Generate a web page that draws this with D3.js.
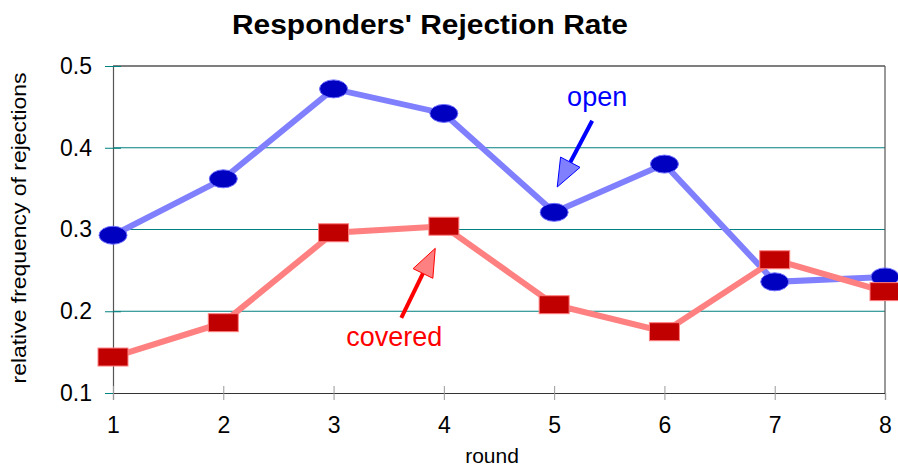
<!DOCTYPE html>
<html lang="en">
<head>
<meta charset="utf-8">
<title>Responders' Rejection Rate</title>
<script src="https://cdn.jsdelivr.net/npm/d3@7"></script>
<style>
  body { margin: 0; background: #fff; }
  text { font-family: "Liberation Sans", Arial, sans-serif; }
</style>
</head>
<body>
<svg width="898" height="468"></svg>
<script>
// data
var rounds = [1, 2, 3, 4, 5, 6, 7, 8];
var openRate = [0.293, 0.362, 0.472, 0.442, 0.321, 0.380, 0.236, 0.242];
var coveredRate = [0.144, 0.186, 0.296, 0.304, 0.208, 0.175, 0.263, 0.224];
var yTicks = [0.1, 0.2, 0.3, 0.4, 0.5];

var svg = d3.select('svg');
var mLeft = 113, mRight = 885, mTop = 66, mBottom = 393;

var x = d3.scaleLinear().domain([1, 8]).range([mLeft, mRight]);
var y = d3.scaleLinear().domain([0.1, 0.5]).range([mBottom, mTop]);

// title
svg.append('text')
    .attr('x', 430).attr('y', 34)
    .attr('text-anchor', 'middle')
    .attr('textLength', 396).attr('lengthAdjust', 'spacingAndGlyphs')
    .style('font-size', '27px').style('font-weight', 'bold')
    .text("Responders' Rejection Rate");

// gridlines
svg.selectAll('line.grid')
    .data(yTicks.slice(1, 4))
    .enter().append('line')
    .attr('class', 'grid')
    .attr('x1', mLeft).attr('x2', mRight)
    .attr('y1', d => y(d)).attr('y2', d => y(d))
    .style('stroke', '#008080').style('stroke-width', 1);

// frame
svg.append('line').attr('x1', mLeft).attr('x2', mRight).attr('y1', mTop).attr('y2', mTop)
    .style('stroke', '#000').style('stroke-width', 1.2);
svg.append('line').attr('x1', mRight).attr('x2', mRight).attr('y1', mTop).attr('y2', mBottom)
    .style('stroke', '#555').style('stroke-width', 1.2);

// y axis
var yAxis = svg.append('g')
    .attr('transform', 'translate(' + mLeft + ',0)')
    .call(d3.axisLeft(y).tickValues(yTicks).tickFormat(d3.format('.1f')).tickSize(8).tickPadding(13));
yAxis.select('.domain').style('stroke', '#555').style('stroke-width', 1.2);
yAxis.selectAll('.tick line').style('stroke', '#008080').attr('x1', -8).attr('x2', 8);
yAxis.selectAll('text').style('font-size', '23px').style('fill', '#000')
    .style('font-family', '"Liberation Sans", Arial, sans-serif');

// x axis
var xAxis = svg.append('g')
    .attr('transform', 'translate(0,' + mBottom + ')')
    .call(d3.axisBottom(x).tickValues(rounds).tickFormat(d3.format('d')).tickSize(7).tickPadding(17));
xAxis.select('.domain').style('stroke', '#333').style('stroke-width', 1.2);
xAxis.selectAll('.tick line').style('stroke', '#999').attr('y1', -7);
xAxis.selectAll('text').style('font-size', '23px').style('fill', '#000')
    .style('font-family', '"Liberation Sans", Arial, sans-serif');

// axis titles
svg.append('text')
    .attr('x', 492).attr('y', 463)
    .attr('text-anchor', 'middle')
    .style('font-size', '21px')
    .text('round');
svg.append('text')
    .attr('transform', 'translate(26,228) rotate(-90)')
    .attr('text-anchor', 'middle')
    .attr('textLength', 311).attr('lengthAdjust', 'spacingAndGlyphs')
    .style('font-size', '21px')
    .text('relative frequency of rejections');

var line = d3.line().x((d, i) => x(rounds[i])).y(d => y(d));

// lines
svg.append('path').datum(openRate).attr('d', line)
    .style('fill', 'none').style('stroke', '#8080ff').style('stroke-width', 6);
svg.append('path').datum(coveredRate).attr('d', line)
    .style('fill', 'none').style('stroke', '#ff8080').style('stroke-width', 6);

// markers
svg.selectAll('ellipse.open')
    .data(openRate).enter().append('ellipse')
    .attr('class', 'open')
    .attr('cx', (d, i) => x(rounds[i])).attr('cy', d => y(d))
    .attr('rx', 14).attr('ry', 9)
    .style('fill', '#0000c0').style('stroke', '#6f6fff').style('stroke-width', 1);
svg.selectAll('rect.covered')
    .data(coveredRate).enter().append('rect')
    .attr('class', 'covered')
    .attr('x', (d, i) => x(rounds[i]) - 15).attr('y', d => y(d) - 9)
    .attr('width', 30).attr('height', 18)
    .style('fill', '#c00000').style('stroke', '#ff8080').style('stroke-width', 1);

// annotations
function arrow(x0, y0, x1, y1, fill, stroke) {
    var px0 = x(x0), py0 = y(y0), px1 = x(x1), py1 = y(y1);
    var ang = Math.atan2(py1 - py0, px1 - px0);
    var len = 28, half = 11;
    var bx = px1 - len * Math.cos(ang), by = py1 - len * Math.sin(ang);
    svg.append('line')
        .attr('x1', px0).attr('y1', py0).attr('x2', bx).attr('y2', by)
        .style('stroke', stroke).style('stroke-width', 4);
    var pts = [[px1, py1],
        [bx + half * Math.sin(ang), by - half * Math.cos(ang)],
        [bx - half * Math.sin(ang), by + half * Math.cos(ang)]];
    svg.append('polygon')
        .attr('points', pts.map(p => p.join(',')).join(' '))
        .style('fill', fill).style('stroke', stroke).style('stroke-width', 1);
}
arrow(5.345, 0.433, 5.028, 0.352, '#8080ff', '#0000ff');
arrow(3.614, 0.192, 3.922, 0.277, '#ff8080', '#ff0000');

svg.append('text')
    .attr('x', x(5.39)).attr('y', y(0.451))
    .attr('text-anchor', 'middle')
    .style('font-size', '27px').style('fill', '#0000ff')
    .text('open');
svg.append('text')
    .attr('x', x(3.55)).attr('y', y(0.157))
    .attr('text-anchor', 'middle')
    .style('font-size', '27px').style('fill', '#ff0000')
    .text('covered');
</script>
</body>
</html>
